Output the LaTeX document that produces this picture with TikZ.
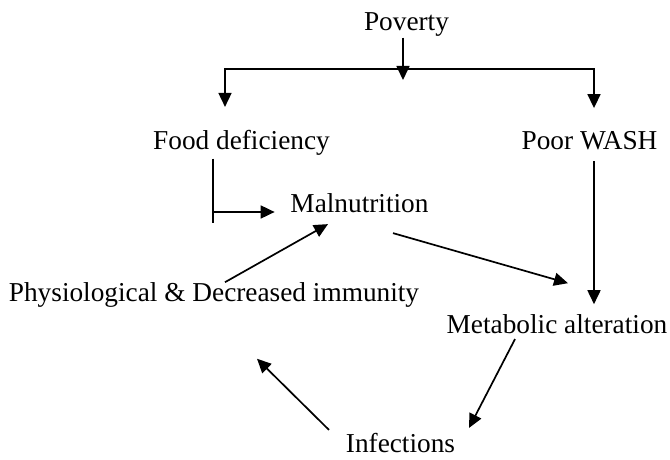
\documentclass[tikz,border=0pt]{standalone}
\usepackage{fontspec}
\setmainfont{Liberation Serif}
\usetikzlibrary{arrows.meta}
\begin{document}
\begin{tikzpicture}[x=1pt, y=1pt, >={Triangle[length=14pt,width=13pt]}, line width=1.7pt,
    lbl/.style={font=\fontsize{27.3}{31}\selectfont, inner sep=0pt, anchor=base}]
    \useasboundingbox (0,0) rectangle (670,459);

    % ===== causes =====
    \node[lbl] (pov)  at (406.5,428) {Poverty};
    \node[lbl] (food) at (241.5,309) {Food deficiency};
    \node[lbl] (wash) at (589.5,309) {Poor WASH};
    \coordinate (bus) at (403,390);

    % ===== cycle =====
    \node[lbl] (mal)  at (359.5,247) {Malnutrition};
    \node[lbl] (phys) at (214,158)   {Physiological \& Decreased immunity};
    \node[lbl] (met)  at (557,126)   {Metabolic alteration};
    \node[lbl] (inf)  at (400.5,7)   {Infections};

    % poverty splits into the two branches
    \draw[->] ([xshift=-3.5pt]pov.south) -- ([yshift=-11pt]bus);
    \draw[<->] ([shift={(-16.5pt,23pt)}]food.north) |- (bus) -| ([shift={(4.5pt,23pt)}]wash.north);

    % food deficiency -> malnutrition
    \coordinate (fdk) at ([xshift=-28.5pt]food.south |- mal.base);
    \draw ([xshift=-28.5pt,yshift=-2pt]food.south) -- ([yshift=-11pt]fdk);
    \draw[->] (fdk) -- ([xshift=-15pt]mal.base west);

    % poor WASH -> metabolic alteration
    \draw[->] ([shift={(4.5pt,-10pt)}]wash.south) -- ([shift={(37pt,9pt)}]met.north);

    \draw[->] ([shift={(11pt,-1pt)}]phys.north) -- ([shift={(-31.5pt,-11pt)}]mal.south);
    \draw[->] ([shift={(33.5pt,-20pt)}]mal.south) -- ([shift={(11pt,30pt)}]met.north);
    \draw[->] ([shift={(-42pt,-5pt)}]met.south) -- ([shift={(68.5pt,4pt)}]inf.north);
    \draw[->] ([shift={(-71.5pt,2pt)}]inf.north) -- ([shift={(43pt,-51pt)}]phys.south);
\end{tikzpicture}
\end{document}
